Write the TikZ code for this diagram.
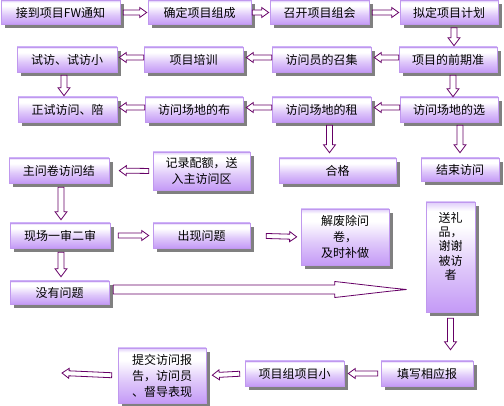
\documentclass[tikz,border=0pt]{standalone}
\usepackage{fontspec}
\setmainfont{Noto Sans CJK SC}
\usetikzlibrary{calc,shadows}
\definecolor{boxbot}{RGB}{196,154,246}
\definecolor{boxtop}{RGB}{222,204,250}
\definecolor{boxline}{RGB}{192,152,238}
\definecolor{arrowc}{RGB}{102,0,102}
\definecolor{shadowc}{RGB}{128,128,128}
\pgfdeclareverticalshading{boxshade}{100bp}{color(0bp)=(boxbot); color(25bp)=(boxbot); color(45bp)=(boxbot!55!white); color(64bp)=(white); color(71bp)=(white); color(75bp)=(boxtop); color(100bp)=(boxtop)}
\tikzset{
  arrsw/.store in=\arrsw, arrhw/.store in=\arrhw, arrhl/.store in=\arrhl,
  arrgs/.store in=\arrgs, arrge/.store in=\arrge, arrdy/.store in=\arrdy,
  arrsw=2.5pt, arrhw=5pt, arrhl=7pt, arrgs=2pt, arrge=2pt, arrdy=0pt,
  box/.style={draw=boxline, line width=0.6pt, shading=boxshade,
    drop shadow={shadow xshift=4pt, shadow yshift=-4pt, fill=shadowc, opacity=1},
    inner sep=0pt, align=center, text=black,
    font=\fontsize{12pt}{16pt}\selectfont},
  hollow/.style={draw=arrowc, fill=white, line width=0.8pt, line join=miter,
    to path={
      let \p1=($(\tikztostart)!\arrgs!(\tikztotarget)+(0pt,\arrdy)$),
          \p2=($(\tikztotarget)!\arrge!(\tikztostart)+(0pt,\arrdy)$),
          \n1={atan2(\y2-\y1,\x2-\x1)}, \n2={\n1+90}, \n3={\n1-90}, \n4={\n1+180} in
      ($(\p1)+(\n2:\arrsw)$) -- ($(\p2)+(\n4:\arrhl)+(\n2:\arrsw)$) --
      ($(\p2)+(\n4:\arrhl)+(\n2:\arrhw)$) -- (\p2) --
      ($(\p2)+(\n4:\arrhl)+(\n3:\arrhw)$) -- ($(\p2)+(\n4:\arrhl)+(\n3:\arrsw)$) --
      ($(\p1)+(\n3:\arrsw)$) -- cycle}},
  vhollow/.style={hollow, arrsw=3pt, arrhw=6pt, arrhl=8pt},
  longarrow/.style={draw=arrowc, fill=white, line width=0.8pt, line join=miter,
    to path={
      let \p1=($(\tikztostart)+(4pt,3pt)$), \p2=($(\tikztotarget)+(-19pt,0pt)$) in
      (\x1,\y1+4.5pt) -- (\x2-72pt,\y1+4.5pt) -- (\x2-72pt,\y1+8pt) -- (\x2-63pt,\y1+7pt) --
      (\x2-17pt,\y1+1.7pt) -- (\x2,\y1) -- (\x2-17pt,\y1-1.7pt) -- (\x2-63pt,\y1-7pt) --
      (\x2-72pt,\y1-8pt) -- (\x2-72pt,\y1-4.5pt) -- (\x1,\y1-4.5pt) -- cycle}}
}
\begin{document}
\begin{tikzpicture}[x=1pt,y=-1pt]
\useasboundingbox (0,0) rectangle (504,406);
% row 1
\node[box, minimum width=119pt, minimum height=24pt] (A) at (60.5,12.5) {接到项目FW通知};
\node[box, minimum width=103pt, minimum height=24pt] (B) at (199.5,12.5) {确定项目组成};
\node[box, minimum width=99pt, minimum height=24pt] (C) at (319.5,12.5) {召开项目组会};
\node[box, minimum width=98pt, minimum height=24pt] (D) at (449,12.5) {拟定项目计划};
% row 2
\node[box, minimum width=100pt, minimum height=25pt] (E) at (67,59.5) {试访、试访小};
\node[box, minimum width=99pt, minimum height=25pt] (F) at (193.5,59.5) {项目培训};
\node[box, minimum width=99pt, minimum height=25pt] (G) at (321.5,59.5) {访问员的召集};
\node[box, minimum width=98pt, minimum height=25pt] (H) at (448,59.5) {项目的前期准};
% row 3
\node[box, minimum width=99pt, minimum height=25pt] (I) at (67.5,109.5) {正试访问、陪};
\node[box, minimum width=98pt, minimum height=25pt] (J) at (194,109.5) {访问场地的布};
\node[box, minimum width=99pt, minimum height=25pt] (K) at (321.5,109.5) {访问场地的租};
\node[box, minimum width=98pt, minimum height=25pt] (L) at (449,109.5) {访问场地的选};
% row 4
\node[box, minimum width=100pt, minimum height=25pt] (O) at (59,170.5) {主问卷访问结};
\node[box, minimum width=97pt, minimum height=38pt] (P) at (201.5,171) {记录配额，送\\入主访问区};
\node[box, minimum width=117pt, minimum height=25pt] (M) at (337.5,170.5) {合格};
\node[box, minimum width=78pt, minimum height=23pt] (N) at (460,169.5) {结束访问};
% row 5
\node[box, minimum width=100pt, minimum height=25pt] (Q) at (60,235.5) {现场一审二审};
\node[box, minimum width=97pt, minimum height=25pt] (R) at (201.5,235.5) {出现问题};
\node[box, minimum width=88pt, minimum height=56pt] (T) at (345,237) {解废除问\\卷，\\及时补做};
\node[box, minimum width=49pt, minimum height=110pt, font=\fontsize{12pt}{14.3pt}\selectfont] (U) at (450.5,257) {送礼\\品，\\谢谢\\被访\\者\\[8pt]\mbox{}};
% row 6
\node[box, minimum width=99pt, minimum height=23pt] (S) at (59.5,292.5) {没有问题};
% row 7
\node[box, minimum width=92pt, minimum height=25pt] (V) at (427,373.5) {填写相应报};
\node[box, minimum width=99pt, minimum height=25pt] (W) at (294.5,373.5) {项目组项目小};
\node[box, minimum width=88pt, minimum height=55pt] (X) at (162,375.5) {提交访问报\\告，访问员\\、督导表现};
\coordinate (xend) at (62,373);
% connectors
\draw[hollow, arrgs=3pt, arrge=1pt] (A.east) to (B.west);
\draw[hollow, arrgs=1pt, arrge=1pt] (B.east) to (C.west);
\draw[hollow, arrgs=3pt, arrge=1pt] (C.east) to (D.west);
\draw[vhollow, arrgs=3pt, arrge=1pt] ($(D.south)+(5,0)$) to ($(H.north)+(6,0)$);
\draw[hollow, arrgs=0pt, arrge=3pt, arrdy=2pt] (H.west) to (G.east);
\draw[hollow, arrgs=0pt, arrge=3pt, arrdy=2pt] (G.west) to (F.east);
\draw[hollow, arrgs=0pt, arrge=2pt, arrdy=2pt] (F.west) to (E.east);
\draw[vhollow, arrgs=3pt, arrge=1pt] ($(E.south)+(-3,0)$) to ($(I.north)+(-3.5,0)$);
\draw[vhollow, arrgs=3pt, arrge=0pt] ($(H.south)+(5,0)$) to ($(L.north)+(4,0)$);
\draw[hollow, arrgs=0pt, arrge=3pt, arrdy=2pt] (L.west) to (K.east);
\draw[hollow, arrgs=0pt, arrge=3pt, arrdy=2pt] (K.west) to (J.east);
\draw[hollow, arrgs=0pt, arrge=2pt, arrdy=2pt] (J.west) to (I.east);
\draw[vhollow, arrgs=3pt, arrge=5pt] ($(K.south)+(8,0)$) to ($(K.south |- M.north)+(8,0)$);
\draw[vhollow, arrgs=3pt, arrge=5pt] (L.south -| N.north) to (N.north);
\draw[hollow, arrgs=4pt, arrge=10pt] (P.west) to (O.east);
\draw[vhollow, arrgs=4pt, arrge=3pt] ($(O.south)+(2,0)$) to ($(O.south |- Q.north)+(2,0)$);
\draw[hollow, arrgs=8pt, arrge=4pt] (Q.east) to (R.west);
\draw[vhollow, arrgs=4pt, arrge=4pt] ($(Q.south)+(1,0)$) to ($(Q.south |- S.north)+(1,0)$);
\draw[hollow, arrgs=16pt, arrge=4pt] (R.east) to (T.west);
\draw[longarrow] (S.east) to (S.east -| U.west);
\draw[vhollow, arrgs=6pt, arrge=11pt] (U.south) to (U.south |- V.north);
\draw[hollow, arrgs=3pt, arrge=4pt] (V.west) to (W.east);
\draw[hollow, arrgs=5pt, arrge=6pt] (W.west) to (X.east);
\draw[hollow, arrgs=6pt, arrge=0pt] (X.west) to (xend);
\end{tikzpicture}
\end{document}
